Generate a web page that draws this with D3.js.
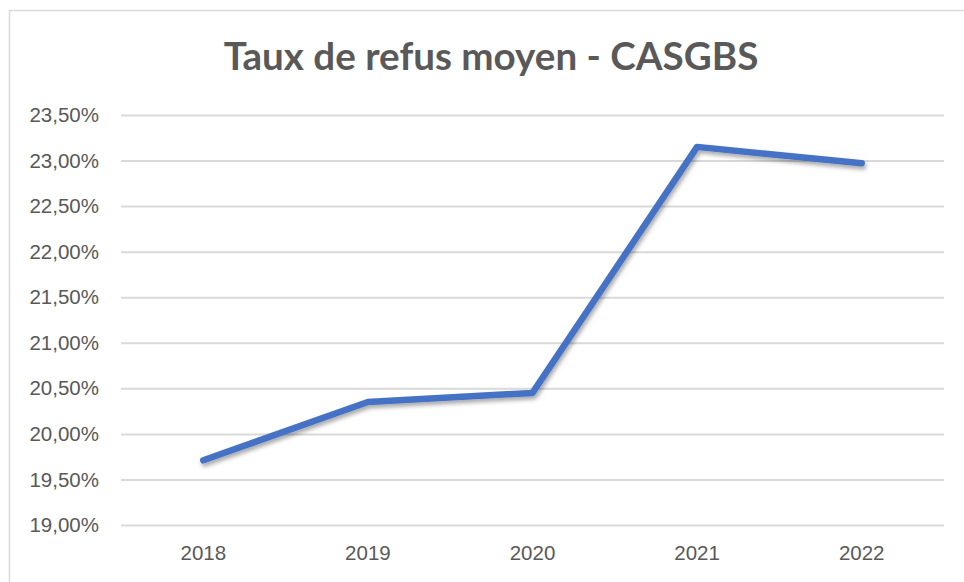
<!DOCTYPE html>
<html>
<head>
<meta charset="utf-8">
<script src="https://cdn.jsdelivr.net/npm/d3@7"></script>
<style>
  body { margin: 0; background: #fff; }
  svg { display: block; font-family: Lato, "Open Sans", sans-serif; }
</style>
</head>
<body>
<svg id="chart" width="964" height="582"></svg>
<script>
const title = 'Taux de refus moyen - CASGBS';
const years = ['2018', '2019', '2020', '2021', '2022'];
const rates = [19.71, 20.35, 20.45, 23.15, 22.97];
const yTicks = [19, 19.5, 20, 20.5, 21, 21.5, 22, 22.5, 23, 23.5];

const svg = d3.select('#chart');
const margin = { left: 121, right: 20, top: 115, bottom: 57 };
const width = 964, height = 582;

// shadow under the line
const defs = svg.append('defs');
const f = defs.append('filter').attr('id', 'shadow')
  .attr('x', '-10%').attr('y', '-10%').attr('width', '120%').attr('height', '130%');
f.append('feDropShadow').attr('dx', 1.5).attr('dy', 3).attr('stdDeviation', 2)
  .attr('flood-color', '#000').attr('flood-opacity', 0.35);

// chart frame
svg.append('rect')
  .attr('x', 9.5).attr('y', 10.5)
  .attr('width', 980).attr('height', 600)
  .attr('fill', '#fff').attr('stroke', '#d9d9d9').attr('stroke-width', 1.5);

const x = d3.scaleBand().domain(years)
  .range([margin.left, width - margin.right]);
const y = d3.scaleLinear().domain([19, 23.5])
  .range([height - margin.bottom, margin.top]);

const fmt = v => d3.format('.2f')(v).replace('.', ',') + '%';

// gridlines + y labels
const yAxis = d3.axisLeft(y).tickValues(yTicks).tickFormat(fmt)
  .tickSize(-(width - margin.left - margin.right)).tickPadding(22);
const gy = svg.append('g').attr('transform', `translate(${margin.left},0)`).call(yAxis);
gy.select('.domain').remove();
gy.selectAll('line').attr('stroke', '#d9d9d9').attr('stroke-width', 2);
gy.selectAll('text').attr('fill', '#595959').attr('font-size', 20.5);

// x labels
const xAxis = d3.axisBottom(x).tickSize(0).tickPadding(20);
const gx = svg.append('g').attr('transform', `translate(0,${height - margin.bottom})`).call(xAxis);
gx.select('.domain').remove();
gx.selectAll('text').attr('fill', '#595959').attr('font-size', 20.5);

// line
const line = d3.line()
  .x((d, i) => x(years[i]) + x.bandwidth() / 2)
  .y(d => y(d));
svg.append('path')
  .datum(rates)
  .attr('d', line)
  .attr('fill', 'none')
  .attr('stroke', '#4472c4')
  .attr('stroke-width', 6.5)
  .attr('stroke-linecap', 'round')
  .attr('stroke-linejoin', 'round')
  .attr('filter', 'url(#shadow)');

// title
svg.append('text')
  .attr('x', 491).attr('y', 70)
  .attr('text-anchor', 'middle')
  .attr('fill', '#595959')
  .attr('font-weight', 'bold')
  .attr('font-size', 38.6)
  .text(title);
</script>
</body>
</html>
